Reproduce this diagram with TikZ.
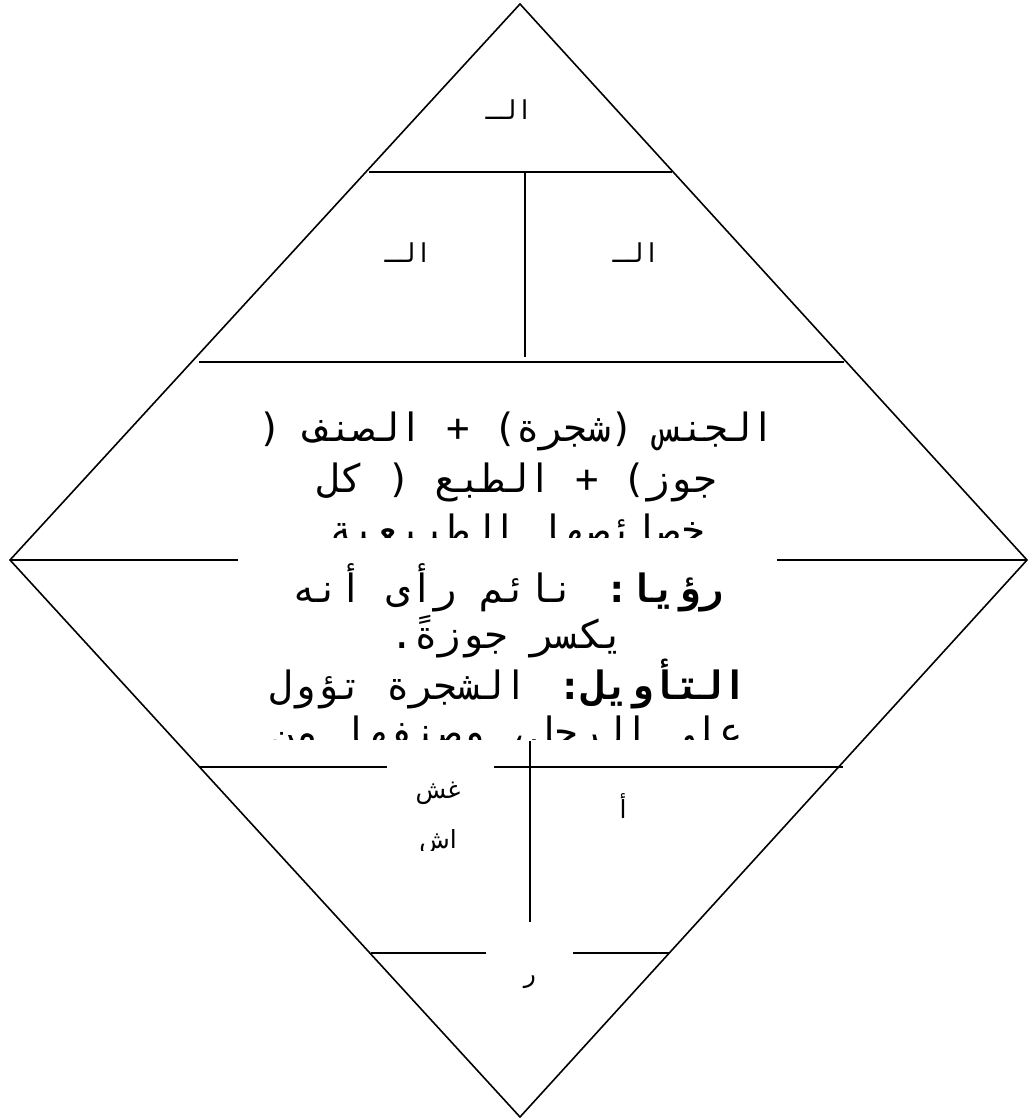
\documentclass[tikz,border=0pt]{standalone}
\usepackage{fontspec}
\TeXXeTstate=1
\newfontfamily\arabicmono[Script=Arabic]{DejaVu Sans Mono}
\newfontfamily\arabicfont[Script=Arabic]{DejaVu Sans}
\newcommand{\rtline}[1]{\beginR #1\endR}

\begin{document}
\begin{tikzpicture}[x=1pt, y=-1pt,
  rule/.style  ={line width=2pt},
  frame/.style ={line width=1.6pt},
  cover/.style ={fill=white, draw=none},
  bigtxt/.style={font=\arabicmono\fontsize{39}{51}\selectfont, align=center,
                 inner sep=0pt},
  lowtxt/.style={bigtxt, font=\arabicmono\fontsize{39}{46}\selectfont},
  tag/.style   ={font=\arabicmono\fontsize{26}{30}\selectfont, inner sep=0pt},
  cell/.style  ={font=\arabicfont\fontsize{25}{50}\selectfont, inner sep=0pt,
                 align=center}]

\useasboundingbox (0,0) rectangle (1029,1118);
\fill[white] (0,0) rectangle (1029,1118);

% the outer diamond
\coordinate (N) at (520,4);
\coordinate (E) at (1027,560);
\coordinate (S) at (520,1117);
\coordinate (W) at (10,560);
\draw[frame] (N) -- (E) -- (S) -- (W) -- cycle;

% rows and the two splits
\foreach \yy/\xa/\xb in {172.5/369/672, 362/199/844, 560/10/1027,
                         766.5/199/843, 953/371/669}
  \draw[rule] (\xa,\yy) -- (\xb,\yy);
\draw[rule] (525,172.5) -- (525,356.5);
\draw[rule] (530,741) -- (530,922);

% white boxes over the rules
\fill[cover] (238,540) rectangle (777,741);
\fill[cover] (387,752) rectangle (494,852);
\fill[cover] (486,945) rectangle (573,990);

% labels
\node[tag] (apex) at (509,110) {\rtline{الـ}};
\node[tag] (midl) at (408,253) {\rtline{الـ}};
\node[tag] (midr) at (636,253) {\rtline{الـ}};

\begin{scope}
  \clip (238,366) rectangle (777,537);
  \node[bigtxt] (genus) at (517,482) {%
    \rtline{الجنس (شجرة) + الصنف (}\\
    \rtline{جوز) + الطبع ( كل}\\
    \rtline{خصائصها الطبيعية}};
\end{scope}

\begin{scope}
  \clip (238,545) rectangle (777,739);
  \node[lowtxt] (dream) at (508,659) {%
    \rtline{{\bfseries رؤيا:} نائم رأى أنه}\\
    \rtline{يكسر جوزةً.}\\
    \rtline{{\bfseries التأويل:} الشجرة تؤول}\\
    \rtline{على الرجل، وصنفها من}};
\end{scope}

\begin{scope}
  \clip (387,752) rectangle (494,850);
  \node[cell] (husk) at (438,818) {\rtline{غش}\\\rtline{اش}};
\end{scope}
\node[cell] (alef) at (623,806) {\rtline{أ}};
\node[cell] (base) at (530,982) {\rtline{ر}};
\end{tikzpicture}
\end{document}
